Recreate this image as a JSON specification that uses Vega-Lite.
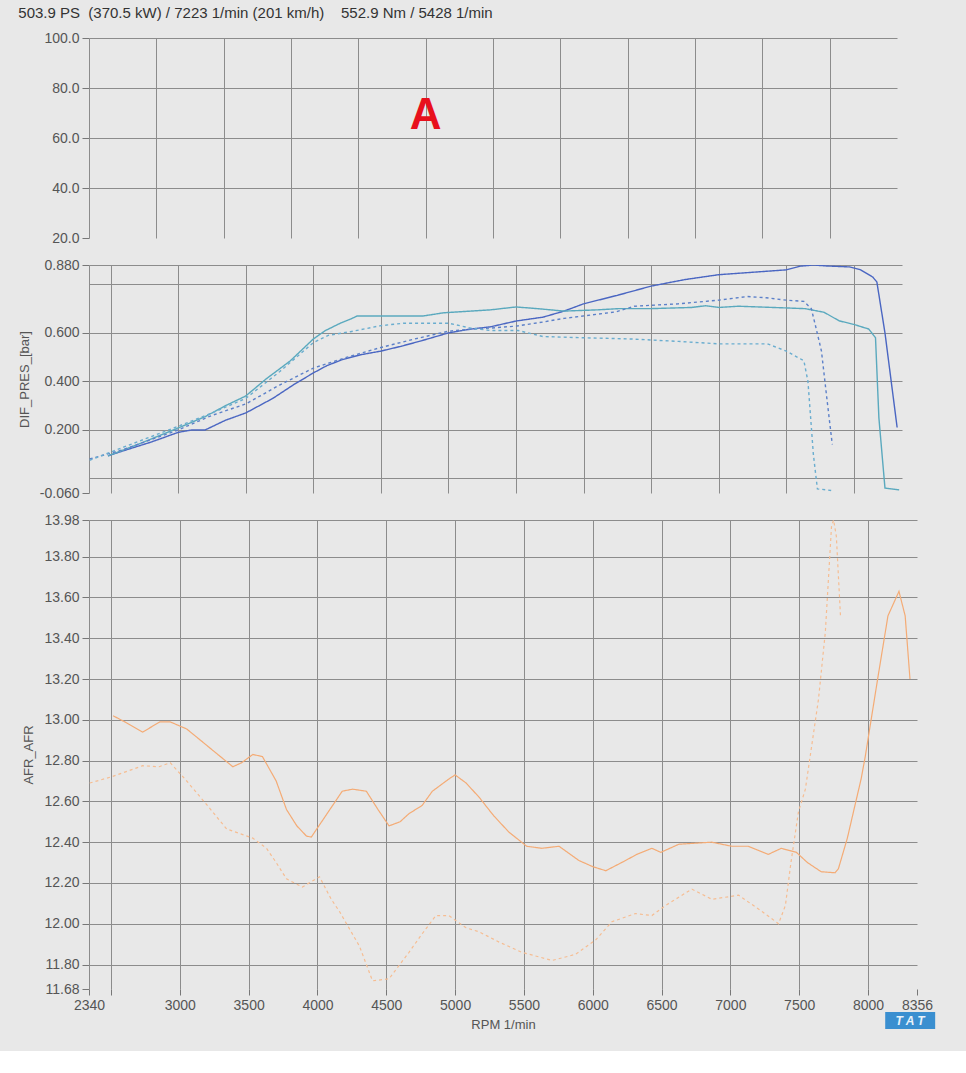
{
  "$schema": "https://vega.github.io/schema/vega-lite/v6.json",
  "background": "#e8e8e8",
  "padding": {"left": 18, "top": 6, "right": 30, "bottom": 20},
  "title": {"text": "503.9 PS \u00a0(370.5 kW) / 7223 1/min (201 km/h) \u00a0\u00a0\u00a0552.9 Nm / 5428 1/min", "anchor": "start", "frame": "bounds", "fontSize": 15, "font": "Liberation Sans", "fontWeight": "normal", "color": "#333333", "offset": 10},
  "spacing": 27,
  "bounds": "flush",
  "resolve": {"scale": {"x": "independent", "y": "independent", "color": "independent", "strokeDash": "independent"}},
  "config": {
    "view": {"stroke": null},
    "axis": {"labelFont": "Liberation Sans", "labelFontSize": 14, "labelColor": "#555555", "labelOverlap": false, "tickCount": 40, "titleFont": "Liberation Sans", "titleFontSize": 13, "titleFontWeight": "normal", "titleColor": "#555555", "gridColor": "#8c8c8c", "gridOpacity": 1, "gridWidth": 1, "domainColor": "#8c8c8c", "tickColor": "#777777"}
  },
  "vconcat": [
    {
      "width": 808,
      "height": 200,
      "data": {"values": [{"gx": 5, "v": 69, "t": "A"}]},
      "mark": {"type": "text", "color": "#e8101c", "font": "Liberation Sans", "fontWeight": "bold", "fontSize": 44},
      "encoding": {
        "x": {"field": "gx", "type": "quantitative", "scale": {"domain": [0, 12], "nice": false, "zero": false}, "axis": {"values": [1, 2, 3, 4, 5, 6, 7, 8, 9, 10, 11], "tickCount": 40, "labels": false, "ticks": false, "domain": false, "title": null, "grid": true}},
        "y": {"field": "v", "type": "quantitative", "scale": {"domain": [20, 100], "nice": false, "zero": false}, "axis": {"values": [20, 40, 60, 80, 100], "tickCount": 40, "format": ".1f", "title": null, "tickSize": 7, "labelPadding": 3, "gridOpacity": {"condition": {"test": "datum.value == 20", "value": 0}, "value": 1}}},
        "text": {"field": "t"}
      }
    },
    {
      "width": 813,
      "height": 228,
      "data": {"values": [
        {"rpm": 2480, "p": 0.093, "s": "B"}, {"rpm": 2600, "p": 0.115, "s": "B"}, {"rpm": 2800, "p": 0.15, "s": "B"}, {"rpm": 3000, "p": 0.19, "s": "B"}, {"rpm": 3100, "p": 0.2, "s": "B"}, {"rpm": 3200, "p": 0.2, "s": "B"}, {"rpm": 3350, "p": 0.24, "s": "B"}, {"rpm": 3500, "p": 0.27, "s": "B"}, {"rpm": 3700, "p": 0.33, "s": "B"}, {"rpm": 3850, "p": 0.385, "s": "B"}, {"rpm": 4000, "p": 0.435, "s": "B"}, {"rpm": 4100, "p": 0.465, "s": "B"}, {"rpm": 4215, "p": 0.49, "s": "B"}, {"rpm": 4350, "p": 0.51, "s": "B"}, {"rpm": 4500, "p": 0.525, "s": "B"}, {"rpm": 4650, "p": 0.545, "s": "B"}, {"rpm": 4790, "p": 0.566, "s": "B"}, {"rpm": 5000, "p": 0.6, "s": "B"}, {"rpm": 5165, "p": 0.616, "s": "B"}, {"rpm": 5310, "p": 0.625, "s": "B"}, {"rpm": 5500, "p": 0.649, "s": "B"}, {"rpm": 5700, "p": 0.665, "s": "B"}, {"rpm": 5855, "p": 0.69, "s": "B"}, {"rpm": 6000, "p": 0.72, "s": "B"}, {"rpm": 6250, "p": 0.755, "s": "B"}, {"rpm": 6500, "p": 0.793, "s": "B"}, {"rpm": 6750, "p": 0.82, "s": "B"}, {"rpm": 7000, "p": 0.84, "s": "B"}, {"rpm": 7250, "p": 0.85, "s": "B"}, {"rpm": 7500, "p": 0.86, "s": "B"}, {"rpm": 7600, "p": 0.875, "s": "B"}, {"rpm": 7700, "p": 0.88, "s": "B"}, {"rpm": 7800, "p": 0.876, "s": "B"}, {"rpm": 7970, "p": 0.872, "s": "B"}, {"rpm": 8050, "p": 0.86, "s": "B"}, {"rpm": 8140, "p": 0.83, "s": "B"}, {"rpm": 8170, "p": 0.81, "s": "B"}, {"rpm": 8230, "p": 0.6, "s": "B"}, {"rpm": 8320, "p": 0.21, "s": "B"},
        {"rpm": 2480, "p": 0.093, "s": "T"}, {"rpm": 2700, "p": 0.14, "s": "T"}, {"rpm": 3000, "p": 0.208, "s": "T"}, {"rpm": 3200, "p": 0.255, "s": "T"}, {"rpm": 3350, "p": 0.3, "s": "T"}, {"rpm": 3500, "p": 0.34, "s": "T"}, {"rpm": 3650, "p": 0.41, "s": "T"}, {"rpm": 3830, "p": 0.485, "s": "T"}, {"rpm": 4000, "p": 0.575, "s": "T"}, {"rpm": 4090, "p": 0.61, "s": "T"}, {"rpm": 4200, "p": 0.64, "s": "T"}, {"rpm": 4275, "p": 0.657, "s": "T"}, {"rpm": 4325, "p": 0.67, "s": "T"}, {"rpm": 4600, "p": 0.67, "s": "T"}, {"rpm": 4815, "p": 0.67, "s": "T"}, {"rpm": 4965, "p": 0.683, "s": "T"}, {"rpm": 5165, "p": 0.69, "s": "T"}, {"rpm": 5310, "p": 0.695, "s": "T"}, {"rpm": 5500, "p": 0.707, "s": "T"}, {"rpm": 5660, "p": 0.7, "s": "T"}, {"rpm": 5855, "p": 0.69, "s": "T"}, {"rpm": 6100, "p": 0.695, "s": "T"}, {"rpm": 6255, "p": 0.7, "s": "T"}, {"rpm": 6490, "p": 0.7, "s": "T"}, {"rpm": 6800, "p": 0.705, "s": "T"}, {"rpm": 6900, "p": 0.712, "s": "T"}, {"rpm": 7000, "p": 0.705, "s": "T"}, {"rpm": 7145, "p": 0.71, "s": "T"}, {"rpm": 7400, "p": 0.705, "s": "T"}, {"rpm": 7640, "p": 0.7, "s": "T"}, {"rpm": 7780, "p": 0.685, "s": "T"}, {"rpm": 7890, "p": 0.65, "s": "T"}, {"rpm": 8000, "p": 0.635, "s": "T"}, {"rpm": 8110, "p": 0.616, "s": "T"}, {"rpm": 8160, "p": 0.58, "s": "T"}, {"rpm": 8185, "p": 0.25, "s": "T"}, {"rpm": 8230, "p": -0.04, "s": "T"}, {"rpm": 8335, "p": -0.047, "s": "T"},
        {"rpm": 2345, "p": 0.08, "s": "BD"}, {"rpm": 2600, "p": 0.12, "s": "BD"}, {"rpm": 3000, "p": 0.2, "s": "BD"}, {"rpm": 3250, "p": 0.26, "s": "BD"}, {"rpm": 3500, "p": 0.307, "s": "BD"}, {"rpm": 3750, "p": 0.385, "s": "BD"}, {"rpm": 4000, "p": 0.455, "s": "BD"}, {"rpm": 4250, "p": 0.5, "s": "BD"}, {"rpm": 4500, "p": 0.54, "s": "BD"}, {"rpm": 4750, "p": 0.575, "s": "BD"}, {"rpm": 5000, "p": 0.607, "s": "BD"}, {"rpm": 5165, "p": 0.615, "s": "BD"}, {"rpm": 5310, "p": 0.62, "s": "BD"}, {"rpm": 5500, "p": 0.628, "s": "BD"}, {"rpm": 5700, "p": 0.645, "s": "BD"}, {"rpm": 5855, "p": 0.66, "s": "BD"}, {"rpm": 6240, "p": 0.687, "s": "BD"}, {"rpm": 6375, "p": 0.71, "s": "BD"}, {"rpm": 6700, "p": 0.72, "s": "BD"}, {"rpm": 7000, "p": 0.735, "s": "BD"}, {"rpm": 7210, "p": 0.75, "s": "BD"}, {"rpm": 7350, "p": 0.745, "s": "BD"}, {"rpm": 7500, "p": 0.735, "s": "BD"}, {"rpm": 7630, "p": 0.73, "s": "BD"}, {"rpm": 7685, "p": 0.7, "s": "BD"}, {"rpm": 7720, "p": 0.62, "s": "BD"}, {"rpm": 7760, "p": 0.525, "s": "BD"}, {"rpm": 7800, "p": 0.33, "s": "BD"}, {"rpm": 7840, "p": 0.14, "s": "BD"},
        {"rpm": 2345, "p": 0.075, "s": "TD"}, {"rpm": 2600, "p": 0.13, "s": "TD"}, {"rpm": 3000, "p": 0.215, "s": "TD"}, {"rpm": 3250, "p": 0.27, "s": "TD"}, {"rpm": 3500, "p": 0.33, "s": "TD"}, {"rpm": 3750, "p": 0.44, "s": "TD"}, {"rpm": 4000, "p": 0.56, "s": "TD"}, {"rpm": 4110, "p": 0.59, "s": "TD"}, {"rpm": 4275, "p": 0.605, "s": "TD"}, {"rpm": 4500, "p": 0.63, "s": "TD"}, {"rpm": 4670, "p": 0.64, "s": "TD"}, {"rpm": 5000, "p": 0.64, "s": "TD"}, {"rpm": 5165, "p": 0.62, "s": "TD"}, {"rpm": 5310, "p": 0.61, "s": "TD"}, {"rpm": 5515, "p": 0.61, "s": "TD"}, {"rpm": 5700, "p": 0.585, "s": "TD"}, {"rpm": 6000, "p": 0.58, "s": "TD"}, {"rpm": 6355, "p": 0.575, "s": "TD"}, {"rpm": 6700, "p": 0.565, "s": "TD"}, {"rpm": 7000, "p": 0.555, "s": "TD"}, {"rpm": 7360, "p": 0.555, "s": "TD"}, {"rpm": 7500, "p": 0.525, "s": "TD"}, {"rpm": 7630, "p": 0.485, "s": "TD"}, {"rpm": 7660, "p": 0.4, "s": "TD"}, {"rpm": 7680, "p": 0.25, "s": "TD"}, {"rpm": 7700, "p": 0.1, "s": "TD"}, {"rpm": 7730, "p": -0.043, "s": "TD"}, {"rpm": 7840, "p": -0.05, "s": "TD"}
      ]},
      "mark": {"type": "line", "strokeWidth": 1.4, "clip": true},
      "encoding": {
        "x": {"field": "rpm", "type": "quantitative", "scale": {"domain": [2340, 8356], "nice": false, "zero": false}, "axis": {"values": [2500, 3000, 3500, 4000, 4500, 5000, 5500, 6000, 6500, 7000, 7500, 8000], "tickCount": 40, "labels": false, "ticks": false, "domain": false, "title": null, "grid": true}},
        "y": {"field": "p", "type": "quantitative", "scale": {"domain": [-0.06, 0.88], "nice": false, "zero": false}, "axis": {"values": [-0.06, 0, 0.2, 0.4, 0.6, 0.8, 0.88], "tickCount": 40, "title": "DIF_PRES_[bar]", "titlePadding": 8, "tickSize": 7, "labelPadding": 3, "labelExpr": "datum.value == 0 || datum.value == 0.8 ? '' : replace(format(datum.value, '.3f'), '\u2212', '-')", "tickOpacity": {"condition": {"test": "datum.value == 0 || datum.value == 0.8", "value": 0}, "value": 1}, "gridOpacity": {"condition": {"test": "datum.value == -0.06", "value": 0}, "value": 1}}},
        "color": {"field": "s", "type": "nominal", "legend": null, "scale": {"domain": ["B", "T", "BD", "TD"], "range": ["#4a66c2", "#5aa9be", "#5c80c9", "#6aadcf"]}},
        "strokeDash": {"field": "s", "type": "nominal", "legend": null, "scale": {"domain": ["B", "T", "BD", "TD"], "range": [[1, 0], [1, 0], [3, 3], [3, 3]]}}
      }
    },
    {
      "width": 828,
      "height": 469,
      "layer": [
        {
          "data": {"values": [
            {"rpm": 2515, "afr": 13.02, "s": "O"}, {"rpm": 2600, "afr": 12.99, "s": "O"}, {"rpm": 2730, "afr": 12.94, "s": "O"}, {"rpm": 2855, "afr": 12.99, "s": "O"}, {"rpm": 2930, "afr": 12.99, "s": "O"}, {"rpm": 3050, "afr": 12.955, "s": "O"}, {"rpm": 3150, "afr": 12.9, "s": "O"}, {"rpm": 3240, "afr": 12.85, "s": "O"}, {"rpm": 3385, "afr": 12.77, "s": "O"}, {"rpm": 3450, "afr": 12.79, "s": "O"}, {"rpm": 3530, "afr": 12.83, "s": "O"}, {"rpm": 3600, "afr": 12.82, "s": "O"}, {"rpm": 3700, "afr": 12.7, "s": "O"}, {"rpm": 3775, "afr": 12.56, "s": "O"}, {"rpm": 3850, "afr": 12.48, "s": "O"}, {"rpm": 3920, "afr": 12.43, "s": "O"}, {"rpm": 3955, "afr": 12.425, "s": "O"}, {"rpm": 4030, "afr": 12.5, "s": "O"}, {"rpm": 4110, "afr": 12.58, "s": "O"}, {"rpm": 4180, "afr": 12.65, "s": "O"}, {"rpm": 4255, "afr": 12.66, "s": "O"}, {"rpm": 4355, "afr": 12.65, "s": "O"}, {"rpm": 4440, "afr": 12.56, "s": "O"}, {"rpm": 4520, "afr": 12.48, "s": "O"}, {"rpm": 4600, "afr": 12.5, "s": "O"}, {"rpm": 4665, "afr": 12.54, "s": "O"}, {"rpm": 4760, "afr": 12.58, "s": "O"}, {"rpm": 4835, "afr": 12.65, "s": "O"}, {"rpm": 4955, "afr": 12.71, "s": "O"}, {"rpm": 5000, "afr": 12.73, "s": "O"}, {"rpm": 5080, "afr": 12.69, "s": "O"}, {"rpm": 5175, "afr": 12.62, "s": "O"}, {"rpm": 5280, "afr": 12.53, "s": "O"}, {"rpm": 5390, "afr": 12.45, "s": "O"}, {"rpm": 5520, "afr": 12.38, "s": "O"}, {"rpm": 5630, "afr": 12.37, "s": "O"}, {"rpm": 5755, "afr": 12.38, "s": "O"}, {"rpm": 5900, "afr": 12.31, "s": "O"}, {"rpm": 6000, "afr": 12.28, "s": "O"}, {"rpm": 6095, "afr": 12.26, "s": "O"}, {"rpm": 6210, "afr": 12.3, "s": "O"}, {"rpm": 6320, "afr": 12.34, "s": "O"}, {"rpm": 6430, "afr": 12.37, "s": "O"}, {"rpm": 6495, "afr": 12.35, "s": "O"}, {"rpm": 6625, "afr": 12.39, "s": "O"}, {"rpm": 6865, "afr": 12.4, "s": "O"}, {"rpm": 7010, "afr": 12.38, "s": "O"}, {"rpm": 7130, "afr": 12.38, "s": "O"}, {"rpm": 7275, "afr": 12.34, "s": "O"}, {"rpm": 7370, "afr": 12.37, "s": "O"}, {"rpm": 7480, "afr": 12.35, "s": "O"}, {"rpm": 7560, "afr": 12.3, "s": "O"}, {"rpm": 7660, "afr": 12.255, "s": "O"}, {"rpm": 7760, "afr": 12.25, "s": "O"}, {"rpm": 7785, "afr": 12.27, "s": "O"}, {"rpm": 7850, "afr": 12.42, "s": "O"}, {"rpm": 7905, "afr": 12.58, "s": "O"}, {"rpm": 7950, "afr": 12.71, "s": "O"}, {"rpm": 7980, "afr": 12.82, "s": "O"}, {"rpm": 8070, "afr": 13.2, "s": "O"}, {"rpm": 8145, "afr": 13.51, "s": "O"}, {"rpm": 8225, "afr": 13.63, "s": "O"}, {"rpm": 8270, "afr": 13.51, "s": "O"}, {"rpm": 8305, "afr": 13.2, "s": "O"},
            {"rpm": 2345, "afr": 12.69, "s": "OD"}, {"rpm": 2500, "afr": 12.72, "s": "OD"}, {"rpm": 2730, "afr": 12.775, "s": "OD"}, {"rpm": 2850, "afr": 12.77, "s": "OD"}, {"rpm": 2930, "afr": 12.79, "s": "OD"}, {"rpm": 3050, "afr": 12.7, "s": "OD"}, {"rpm": 3200, "afr": 12.58, "s": "OD"}, {"rpm": 3340, "afr": 12.465, "s": "OD"}, {"rpm": 3530, "afr": 12.42, "s": "OD"}, {"rpm": 3630, "afr": 12.37, "s": "OD"}, {"rpm": 3700, "afr": 12.3, "s": "OD"}, {"rpm": 3775, "afr": 12.22, "s": "OD"}, {"rpm": 3890, "afr": 12.18, "s": "OD"}, {"rpm": 4015, "afr": 12.23, "s": "OD"}, {"rpm": 4100, "afr": 12.12, "s": "OD"}, {"rpm": 4160, "afr": 12.06, "s": "OD"}, {"rpm": 4305, "afr": 11.89, "s": "OD"}, {"rpm": 4400, "afr": 11.72, "s": "OD"}, {"rpm": 4520, "afr": 11.73, "s": "OD"}, {"rpm": 4665, "afr": 11.86, "s": "OD"}, {"rpm": 4760, "afr": 11.95, "s": "OD"}, {"rpm": 4860, "afr": 12.04, "s": "OD"}, {"rpm": 4955, "afr": 12.04, "s": "OD"}, {"rpm": 5080, "afr": 11.98, "s": "OD"}, {"rpm": 5175, "afr": 11.96, "s": "OD"}, {"rpm": 5320, "afr": 11.91, "s": "OD"}, {"rpm": 5485, "afr": 11.86, "s": "OD"}, {"rpm": 5705, "afr": 11.82, "s": "OD"}, {"rpm": 5875, "afr": 11.85, "s": "OD"}, {"rpm": 6020, "afr": 11.92, "s": "OD"}, {"rpm": 6140, "afr": 12.01, "s": "OD"}, {"rpm": 6310, "afr": 12.05, "s": "OD"}, {"rpm": 6430, "afr": 12.04, "s": "OD"}, {"rpm": 6530, "afr": 12.09, "s": "OD"}, {"rpm": 6720, "afr": 12.17, "s": "OD"}, {"rpm": 6865, "afr": 12.12, "s": "OD"}, {"rpm": 7060, "afr": 12.14, "s": "OD"}, {"rpm": 7230, "afr": 12.06, "s": "OD"}, {"rpm": 7350, "afr": 12.0, "s": "OD"}, {"rpm": 7400, "afr": 12.09, "s": "OD"}, {"rpm": 7440, "afr": 12.3, "s": "OD"}, {"rpm": 7495, "afr": 12.55, "s": "OD"}, {"rpm": 7545, "afr": 12.66, "s": "OD"}, {"rpm": 7640, "afr": 13.1, "s": "OD"}, {"rpm": 7690, "afr": 13.43, "s": "OD"}, {"rpm": 7735, "afr": 13.95, "s": "OD"}, {"rpm": 7750, "afr": 13.98, "s": "OD"}, {"rpm": 7770, "afr": 13.9, "s": "OD"}, {"rpm": 7800, "afr": 13.51, "s": "OD"}
          ]},
          "mark": {"type": "line", "strokeWidth": 1.2, "clip": true},
          "encoding": {
            "x": {"field": "rpm", "type": "quantitative", "scale": {"domain": [2340, 8356], "nice": false, "zero": false}, "axis": {"values": [2340, 2500, 3000, 3500, 4000, 4500, 5000, 5500, 6000, 6500, 7000, 7500, 8000, 8356], "tickCount": 40, "title": "RPM 1/min", "titlePadding": 6, "domain": false, "tickSize": 6, "labelPadding": 3, "labelFlush": false, "labelExpr": "datum.value == 2500 ? '' : datum.value", "gridOpacity": {"condition": {"test": "datum.value == 2340 || datum.value == 8356", "value": 0}, "value": 1}}},
            "y": {"field": "afr", "type": "quantitative", "scale": {"domain": [11.68, 13.98], "nice": false, "zero": false}, "axis": {"values": [11.68, 11.8, 12.0, 12.2, 12.4, 12.6, 12.8, 13.0, 13.2, 13.4, 13.6, 13.8, 13.98], "tickCount": 40, "format": ".2f", "title": "AFR_AFR", "titlePadding": 8, "tickSize": 7, "labelPadding": 3, "gridOpacity": {"condition": {"test": "datum.value == 11.68", "value": 0}, "value": 1}}},
            "color": {"field": "s", "type": "nominal", "legend": null, "scale": {"domain": ["O", "OD"], "range": ["#f4ab75", "#f6bd92"]}},
            "strokeDash": {"field": "s", "type": "nominal", "legend": null, "scale": {"domain": ["O", "OD"], "range": [[1, 0], [3, 3]]}}
          }
        },
        {
          "data": {"values": [{"rpm": 8125, "rpm2": 8488, "afr": 11.567, "afr2": 11.484}]},
          "mark": {"type": "rect", "color": "#3a8fd0", "clip": false},
          "encoding": {
            "x": {"field": "rpm", "type": "quantitative"},
            "x2": {"field": "rpm2"},
            "y": {"field": "afr", "type": "quantitative"},
            "y2": {"field": "afr2"}
          }
        },
        {
          "data": {"values": [{"rpm": 8306, "afr": 11.525, "t": "T A T"}]},
          "mark": {"type": "text", "color": "#e8f2fa", "font": "Liberation Sans", "fontStyle": "italic", "fontWeight": "bold", "fontSize": 12, "clip": false},
          "encoding": {
            "x": {"field": "rpm", "type": "quantitative"},
            "y": {"field": "afr", "type": "quantitative"},
            "text": {"field": "t"}
          }
        }
      ]
    }
  ]
}
